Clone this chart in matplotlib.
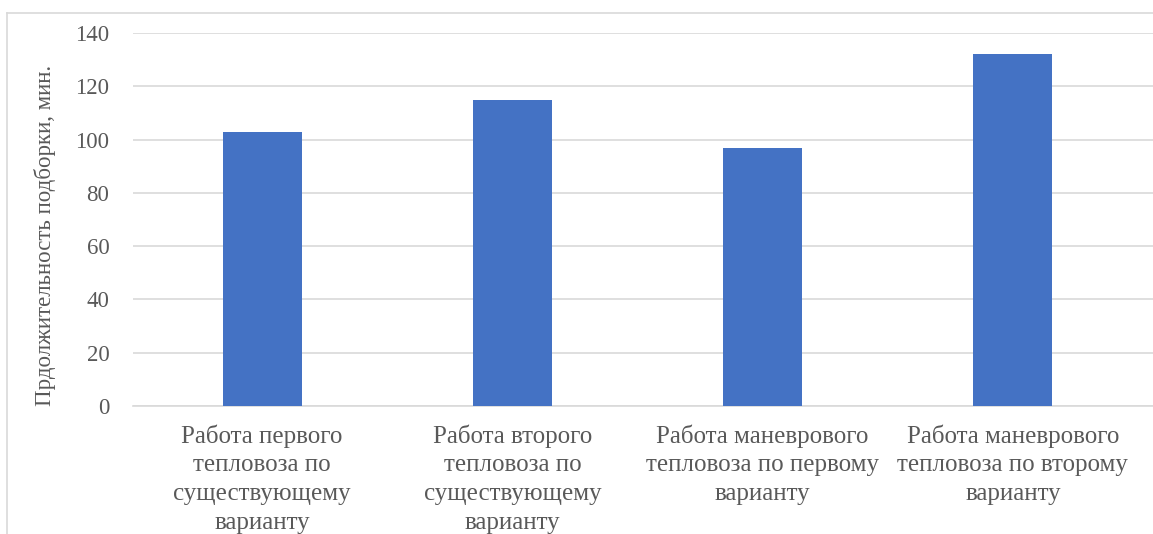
import numpy as np
import matplotlib
matplotlib.use("Agg")
import matplotlib.pyplot as plt
from matplotlib.lines import Line2D

categories = ["Работа первого\nтепловоза по\nсуществующему\nварианту",
              "Работа второго\nтепловоза по\nсуществующему\nварианту",
              "Работа маневрового\nтепловоза по первому\nварианту",
              "Работа маневрового\nтепловоза по второму\nварианту"]
values = [103, 115, 97, 132]
y_ticks = [0, 20, 40, 60, 80, 100, 120, 140]
y_label = "Прдолжительность подборки, мин."

plt.rcParams['font.family'] = ['Liberation Serif', 'DejaVu Serif']
text_color = "#595959"
grid_color = "#D9D9D9"

fig = plt.figure(figsize=(11.53, 5.34), dpi=100)
ax = fig.add_axes([133 / 1153, 1 - 406 / 534, 1 - 133 / 1153, (406 - 33) / 534])

x = np.arange(len(categories))
ax.bar(x, values, width=0.316, color="#4472C4", zorder=3)

ax.set_ylim(0, 140)
ax.set_xlim(-0.516, 3.56)
ax.set_yticks(y_ticks)
ax.set_xticks(x)
ax.set_xticklabels(categories, linespacing=1.4, fontsize=18)
ax.yaxis.grid(True, color=grid_color, linewidth=1.2, zorder=0)
ax.tick_params(axis='both', length=0, labelcolor=text_color)
ax.tick_params(axis='y', pad=17, labelsize=16.5)
ax.tick_params(axis='x', pad=13)
for side in ['top', 'right', 'left']:
    ax.spines[side].set_visible(False)
ax.spines['bottom'].set_color(grid_color)
ax.spines['bottom'].set_linewidth(1.2)

fig.text(45 / 1153, 1 - 235 / 534, y_label, rotation=90, ha='center', va='center',
         fontsize=16.5, color=text_color)

# chart area border (partly cropped in the reference)
fig.add_artist(Line2D([7 / 1153, 7 / 1153], [0, 1 - 13 / 534], transform=fig.transFigure,
                      color=grid_color, linewidth=1.2))
fig.add_artist(Line2D([7 / 1153, 1], [1 - 13 / 534, 1 - 13 / 534], transform=fig.transFigure,
                      color=grid_color, linewidth=1.2))

fig.savefig("out.png", dpi=100, facecolor="white")
